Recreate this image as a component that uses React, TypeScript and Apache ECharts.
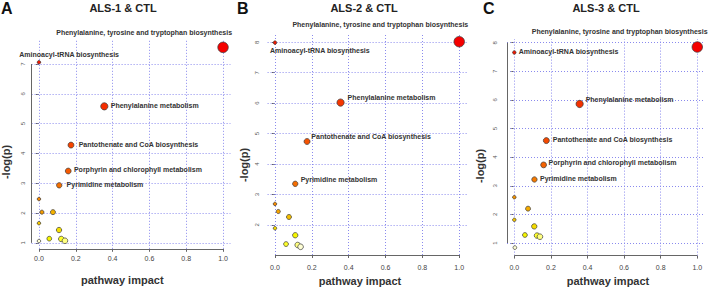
import React, { useEffect, useRef } from "react";
import * as echarts from "echarts";

// ---------- data ----------
const PANEL_LETTERS = ["A", "B", "C"];
const PANEL_TITLES = ["ALS-1 & CTL", "ALS-2 & CTL", "ALS-3 & CTL"];
const X_AXIS_TITLE = "pathway impact";
const Y_AXIS_TITLE = "-log(p)";

const X_TICKS = [0, 0.2, 0.4, 0.6, 0.8, 1.0];
const Y_TICKS_A = [1, 2, 3, 4, 5, 6, 7];
const Y_TICKS_B = [1, 2, 3, 4, 5, 6, 7, 8];
const Y_TICKS_C = [1, 2, 3, 4, 5, 6, 7, 8];

const PTT = "Phenylalanine, tyrosine and tryptophan biosynthesis";
const AT = "Aminoacyl-tRNA biosynthesis";
const PM = "Phenylalanine metabolism";
const PC = "Pantothenate and CoA biosynthesis";
const PO = "Porphyrin and chlorophyll metabolism";
const PY = "Pyrimidine metabolism";

const namesA = [PTT, AT, PM, PC, PO, PY, "", "", "", "", "", "", "", "", ""];
const impactA = [1.0, 0.0, 0.355, 0.174, 0.159, 0.11, 0.0, 0.016, 0.076, 0.0, 0.109, 0.056, 0.121, 0.141, 0.0];
const logpA = [7.56, 7.06, 5.58, 4.28, 3.41, 2.93, 2.47, 2.03, 2.03, 1.66, 1.43, 1.14, 1.13, 1.07, 1.06];

const namesB = [PTT, AT, PM, PC, PY, "", "", "", "", "", "", "", ""];
const impactB = [1.0, 0.0, 0.356, 0.174, 0.11, 0.0, 0.018, 0.076, 0.0, 0.11, 0.06, 0.123, 0.139];
const logpB = [8.02, 7.99, 6.02, 4.74, 3.35, 2.69, 2.44, 2.26, 1.89, 1.66, 1.37, 1.34, 1.28];

const namesC = [PTT, AT, PM, PC, PO, PY, "", "", "", "", "", "", "", ""];
const impactC = [1.0, 0.0, 0.357, 0.175, 0.16, 0.11, 0.0, 0.075, 0.0, 0.109, 0.058, 0.124, 0.14, 0.003];
const logpC = [7.85, 7.66, 5.86, 4.58, 3.73, 3.22, 2.6, 2.2, 1.81, 1.58, 1.28, 1.26, 1.22, 0.84];

// ---------- layout / style ----------
type Place = { align: "left" | "right"; dx: number; dy: number };
const LABEL_PLACE: Record<string, Place>[] = [
  {
    [PTT]: { align: "right", dx: 9, dy: -15 },
    [AT]: { align: "left", dx: -19.7, dy: -7.3 },
    [PM]: { align: "left", dx: 6.4, dy: -0.6 },
    [PC]: { align: "left", dx: 7.7, dy: -1 },
    [PO]: { align: "left", dx: 5.7, dy: -2 },
    [PY]: { align: "left", dx: 7.4, dy: -1.3 },
  },
  {
    [PTT]: { align: "right", dx: 9, dy: -17 },
    [AT]: { align: "left", dx: -5, dy: 8 },
    [PM]: { align: "left", dx: 7, dy: -5 },
    [PC]: { align: "left", dx: 4.3, dy: -4.6 },
    [PY]: { align: "left", dx: 5.4, dy: -4.7 },
  },
  {
    [PTT]: { align: "right", dx: 10.3, dy: -16 },
    [AT]: { align: "left", dx: 4.4, dy: -1.3 },
    [PM]: { align: "left", dx: 6, dy: -4 },
    [PC]: { align: "left", dx: 6.4, dy: -1.3 },
    [PO]: { align: "left", dx: 5, dy: -2 },
    [PY]: { align: "left", dx: 5.6, dy: -1.4 },
  },
];

const LAYOUT = [
  { grid: { left: 31.6, top: 39.6, width: 198.8, height: 209.2 }, xMargin: 6, yMargin: 6, letterX: 1, titleX: 123, yTitle: [6, 162], xTitle: [122.3, 280] },
  { grid: { left: 267.6, top: 33.5, width: 199.0, height: 221.5 }, xMargin: 9, yMargin: 8, letterX: 237, titleX: 364, yTitle: [244, 165], xTitle: [360, 281] },
  { grid: { left: 507.0, top: 39.0, width: 197.6, height: 216.6 }, xMargin: 8.6, yMargin: 9, letterX: 483, titleX: 606, yTitle: [480, 166], xTitle: [608, 281] },
];

const FONT = "'Liberation Sans', Arial, Helvetica, sans-serif";
const LABEL_FONT = `bold 7px ${FONT}`;
const GRID_COLOR = "#8a8aee";
const AXIS_COLOR = "#666";
const LABEL_COLOR = "#333";

function hsvToHex(h: number, s: number, v: number): string {
  const i = Math.floor(h * 6);
  const f = h * 6 - i;
  const p = v * (1 - s);
  const q = v * (1 - f * s);
  const t = v * (1 - (1 - f) * s);
  let r = 0, g = 0, b = 0;
  switch (((i % 6) + 6) % 6) {
    case 0: r = v; g = t; b = p; break;
    case 1: r = q; g = v; b = p; break;
    case 2: r = p; g = v; b = t; break;
    case 3: r = p; g = q; b = v; break;
    case 4: r = t; g = p; b = v; break;
    default: r = v; g = p; b = q;
  }
  const hx = (x: number) => Math.round(x * 255).toString(16).padStart(2, "0");
  return "#" + hx(r) + hx(g) + hx(b);
}

// R heat.colors(n), indexed by rank (0 = most significant)
function heatColor(rank: number, n: number): string {
  const j = Math.floor(n / 4);
  const i = n - j;
  if (rank < i) {
    const h = i > 1 ? (rank / (i - 1)) / 6 : 0;
    return hsvToHex(h, 1, 0.96);
  }
  const k = rank - i;
  const s0 = 1 - 1 / (2 * j);
  const s1 = 1 / (2 * j);
  const s = j > 1 ? s0 + ((s1 - s0) * k) / (j - 1) : s0;
  return hsvToHex(1 / 6, s, 1);
}

function rExtent(vals: number[]): [number, number] {
  const lo = Math.min(...vals);
  const hi = Math.max(...vals);
  const pad = (hi - lo) * 0.04;
  return [lo - pad, hi + pad];
}

const sizeOf = (impact: number) => 3.5 + 7 * Math.pow(impact, 0.6);

export default function App() {
  const ref = useRef<HTMLDivElement>(null);

  useEffect(() => {
    if (!ref.current) return;
    const chart = echarts.init(ref.current, undefined, { renderer: "svg" });

    const panels = [
      { names: namesA, impact: impactA, logp: logpA, yTicks: Y_TICKS_A },
      { names: namesB, impact: impactB, logp: logpB, yTicks: Y_TICKS_B },
      { names: namesC, impact: impactC, logp: logpC, yTicks: Y_TICKS_C },
    ];

    const grids: any[] = [];
    const xAxes: any[] = [];
    const yAxes: any[] = [];
    const series: any[] = [];
    const graphics: any[] = [];

    panels.forEach((p, pi) => {
      const L = LAYOUT[pi];
      const [xMin, xMax] = rExtent(p.impact);
      const [yMin, yMax] = rExtent(p.logp);
      grids.push({ ...L.grid, containLabel: false });

      xAxes.push({
        gridIndex: pi,
        type: "value",
        min: xMin,
        max: xMax,
        axisLine: { show: false },
        axisTick: { show: true, length: 3, customValues: X_TICKS, lineStyle: { color: AXIS_COLOR, width: 1 } },
        axisLabel: {
          customValues: X_TICKS,
          formatter: (v: number) => v.toFixed(1),
          fontSize: 7,
          color: "#444",
          fontFamily: FONT,
          margin: L.xMargin,
          hideOverlap: false,
        },
        splitLine: { show: false },
      });

      yAxes.push({
        gridIndex: pi,
        type: "value",
        min: yMin,
        max: yMax,
        axisLine: { show: false },
        axisTick: { show: true, length: 3, customValues: p.yTicks, lineStyle: { color: AXIS_COLOR, width: 1 } },
        axisLabel: {
          customValues: p.yTicks,
          rotate: 90,
          fontSize: 6,
          color: "#555",
          fontFamily: FONT,
          margin: L.yMargin,
          hideOverlap: false,
        },
        splitLine: { show: false },
      });

      // grid lines and R-style axis lines as mark lines, through the axes' scales
      const gridStyle = { color: GRID_COLOR, width: 1, type: [1, 2] };
      const axisStyle = { color: AXIS_COLOR, width: 1, type: "solid" };
      const markData: any[] = [
        ...X_TICKS.map((v) => ({ xAxis: v, lineStyle: gridStyle })),
        ...p.yTicks.map((v) => ({ yAxis: v, lineStyle: gridStyle })),
        [
          { coord: [xMin, p.yTicks[0]], lineStyle: axisStyle },
          { coord: [xMin, p.yTicks[p.yTicks.length - 1]] },
        ],
        [
          { coord: [X_TICKS[0], yMin], lineStyle: axisStyle },
          { coord: [X_TICKS[X_TICKS.length - 1], yMin] },
        ],
      ];
      series.push({
        type: "line",
        xAxisIndex: pi,
        yAxisIndex: pi,
        data: [],
        z: 1,
        silent: true,
        markLine: {
          silent: true,
          symbol: ["none", "none"],
          label: { show: false },
          emphasis: { disabled: true },
          animation: false,
          data: markData,
        },
      });

      // rank for heat colours
      const order = p.logp.map((v, i) => i).sort((a, b) => p.logp[b] - p.logp[a] || a - b);
      const rank: number[] = [];
      order.forEach((idx, r) => (rank[idx] = r));
      const n = p.logp.length;

      const data = p.impact.map((imp, i) => ({
        value: [imp, p.logp[i]],
        name: p.names[i],
        symbolSize: sizeOf(imp),
        itemStyle: { color: heatColor(rank[i], n) },
      }));
      series.push({
        type: "scatter",
        xAxisIndex: pi,
        yAxisIndex: pi,
        data,
        z: 5,
        itemStyle: { borderColor: "#3a3a3a", borderWidth: 0.7, opacity: 1 },
        label: { show: false },
        emphasis: { disabled: true },
        silent: true,
      });

      graphics.push({
        type: "text",
        id: `letter${pi}`,
        x: L.letterX,
        y: 8,
        style: { text: PANEL_LETTERS[pi], font: `bold 16px ${FONT}`, fill: "#111", align: "left", verticalAlign: "middle" },
      });
      graphics.push({
        type: "text",
        id: `title${pi}`,
        x: L.titleX,
        y: 8,
        style: { text: PANEL_TITLES[pi], font: `bold 11px ${FONT}`, fill: "#222", align: "center", verticalAlign: "middle" },
      });
      graphics.push({
        type: "text",
        id: `xname${pi}`,
        x: L.xTitle[0],
        y: L.xTitle[1],
        style: { text: X_AXIS_TITLE, font: `bold 11px ${FONT}`, fill: "#333", align: "center", verticalAlign: "middle" },
      });
      graphics.push({
        type: "text",
        id: `yname${pi}`,
        x: L.yTitle[0],
        y: L.yTitle[1],
        rotation: Math.PI / 2,
        style: { text: Y_AXIS_TITLE, font: `bold 11px ${FONT}`, fill: "#333", align: "center", verticalAlign: "middle" },
      });
    });

    chart.setOption({
      animation: false,
      backgroundColor: "#ffffff",
      textStyle: { fontFamily: FONT },
      grid: grids,
      xAxis: xAxes,
      yAxis: yAxes,
      series,
      graphic: graphics,
    });

    // pathway labels placed next to their points, via the chart's own scales
    const labelGraphics: any[] = [];
    panels.forEach((p, pi) => {
      p.names.forEach((name, i) => {
        if (!name) return;
        const place = LABEL_PLACE[pi][name];
        if (!place) return;
        const pt = chart.convertToPixel({ gridIndex: pi }, [p.impact[i], p.logp[i]]) as number[];
        labelGraphics.push({
          type: "text",
          id: `lab${pi}_${i}`,
          x: pt[0] + place.dx,
          y: pt[1] + place.dy,
          z: 20,
          silent: true,
          style: {
            text: name,
            font: LABEL_FONT,
            fill: LABEL_COLOR,
            align: place.align,
            verticalAlign: "middle",
          },
        });
      });
    });
    chart.setOption({ graphic: [...graphics, ...labelGraphics] });

    return () => chart.dispose();
  }, []);

  return (
    <div
      ref={ref}
      style={{ position: "fixed", left: 0, top: 0, width: 709, height: 288, background: "#fff" }}
    />
  );
}
